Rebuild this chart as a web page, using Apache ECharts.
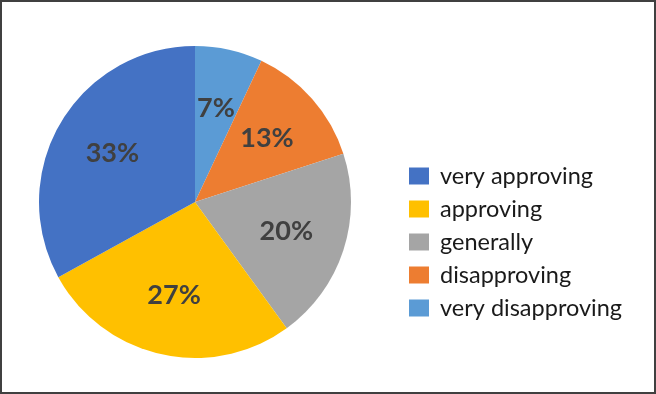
<!DOCTYPE html>
<html>
<head>
<meta charset="utf-8">
<script src="https://cdn.jsdelivr.net/npm/echarts@6/dist/echarts.min.js"></script>
<style>html,body{margin:0;padding:0;background:#fff;}#c{width:656px;height:394px;}</style>
</head>
<body>
<div id="c"></div>
<script>
// Legend order (top to bottom)
var legendNames = ['very approving', 'approving', 'generally', 'disapproving', 'very disapproving'];
// Slice order clockwise from 12 o'clock
var sliceNames = ['very disapproving', 'disapproving', 'generally', 'approving', 'very approving'];
var sliceValues = [7, 13, 20, 27, 33];
var sliceColors = ['#5B9BD5', '#ED7D31', '#A5A5A5', '#FFC000', '#4472C4'];

var data = sliceNames.map(function (n, i) {
  return { name: n, value: sliceValues[i], itemStyle: { color: sliceColors[i] } };
});
var labelData = sliceNames.map(function (n, i) {
  return { name: n, value: sliceValues[i] };
});

var chart = echarts.init(document.getElementById('c'), null, { renderer: 'canvas' });
chart.setOption({
  animation: false,
  backgroundColor: '#fff',
  graphic: [{
    type: 'rect', z: 100, silent: true,
    shape: { x: 1, y: 1, width: 654, height: 392 },
    style: { fill: 'none', stroke: '#404040', lineWidth: 2 }
  }],
  legend: {
    orient: 'vertical',
    left: 404,
    top: 159,
    data: legendNames,
    itemWidth: 20,
    itemHeight: 17,
    itemGap: 9,
    icon: 'rect',
    selectedMode: false,
    textStyle: { fontFamily: 'Lato', fontSize: 23.5, color: '#1a1a1a', lineHeight: 23, padding: [0, 0, 0, 6] }
  },
  series: [{
    type: 'pie',
    center: [195, 202],
    radius: [0, 156],
    startAngle: 90,
    clockwise: true,
    silent: true,
    label: { show: false },
    labelLine: { show: false },
    itemStyle: { borderWidth: 0 },
    data: data
  }, {
    type: 'pie',
    center: [195, 202],
    radius: [30, 156],
    startAngle: 90,
    clockwise: true,
    silent: true,
    z: 5,
    itemStyle: { color: 'rgba(0,0,0,0)', borderWidth: 0 },
    label: {
      show: true,
      position: 'inside',
      formatter: '{c}%',
      fontFamily: 'Lato',
      fontWeight: 'bold',
      fontSize: 27,
      color: '#404040'
    },
    labelLine: { show: false },
    data: labelData
  }]
});
</script>
</body>
</html>
